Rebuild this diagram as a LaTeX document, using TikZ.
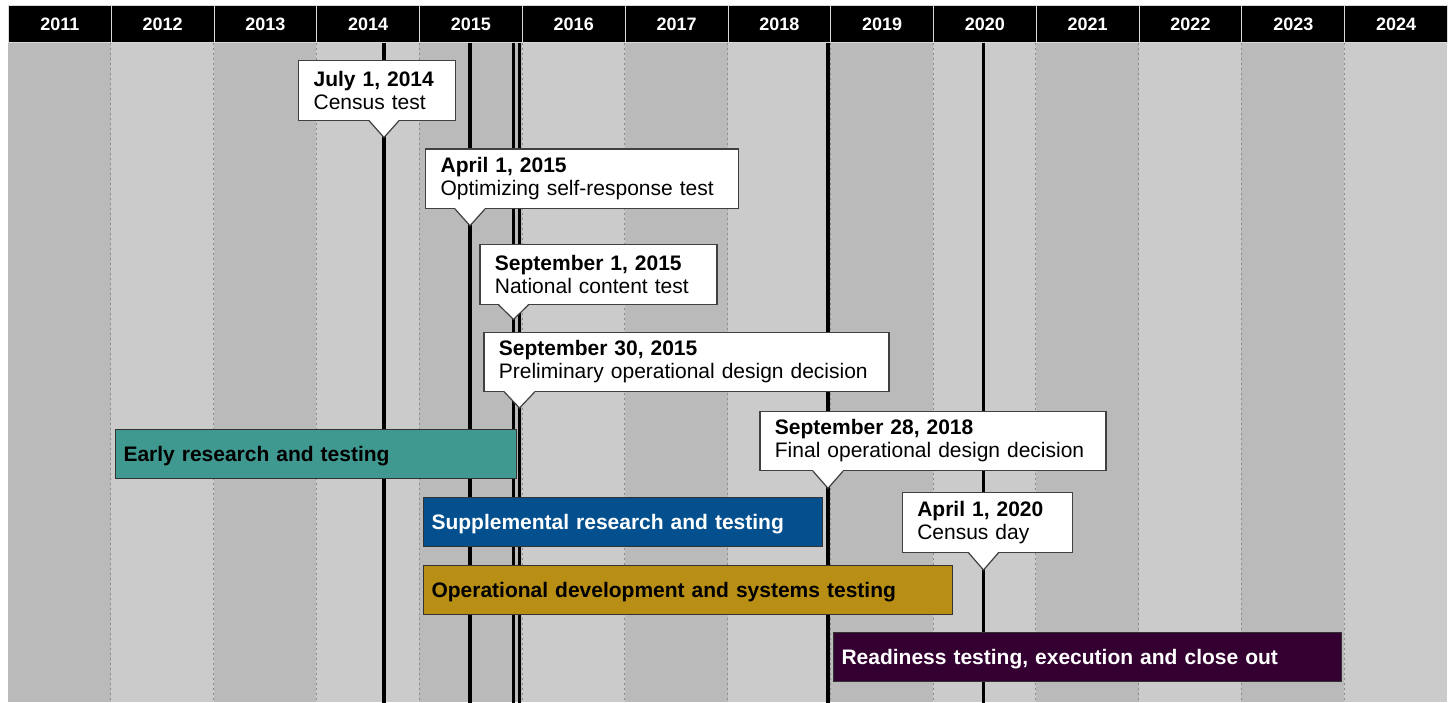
\documentclass[tikz,border=0pt]{standalone}
\usepackage{fontspec}
\setmainfont{Liberation Sans}
\usetikzlibrary{calc}

\definecolor{darkcol}{HTML}{BABABA}
\definecolor{lightcol}{HTML}{CBCBCB}
\definecolor{earlycol}{HTML}{3F9991}
\definecolor{suppcol}{HTML}{04508F}
\definecolor{opercol}{HTML}{B98E15}
\definecolor{readycol}{HTML}{330031}

\tikzset{
  yearcell/.style={fill=black, draw=black!15, line width=0.8pt, text=white,
    anchor=north west, minimum width=102.79pt, minimum height=37pt,
    font=\fontsize{18}{20}\selectfont\bfseries},
  yeargrid/.style={draw=black!45, line width=0.9pt, dash pattern=on 2pt off 3pt},
  milestone/.style={draw=black, line width=3.6pt},
  notebox/.style={draw=black!75, fill=white, line width=1.2pt, anchor=north west,
    align=left, inner xsep=15pt, inner ysep=0pt, minimum height=59.5pt,
    font=\fontsize{21}{23.4}\selectfont},
  tipline/.style={draw=black!75, line width=1.2pt, line join=miter},
  phasebar/.style={draw=black!80, line width=1pt, anchor=north west,
    align=left, inner xsep=8pt, inner ysep=0pt, minimum height=48.5pt,
    text height=15pt, text depth=0pt,
    font=\fontsize{21}{24}\selectfont\bfseries},
}

\begin{document}
\begin{tikzpicture}[%
      x=1pt, y=-1pt,
      ]
      \useasboundingbox (0,0) rectangle (1449,702);

      \foreach \i in {0,...,13} {
        \pgfmathsetmacro{\xa}{8+102.79*\i}
        \pgfmathtruncatemacro{\yr}{2011+\i}
        \ifodd\i \def\colcol{lightcol}\else \def\colcol{darkcol}\fi
        \fill[\colcol] (\xa,42) rectangle ++(102.79,660);
        \node[yearcell] (y\yr) at (\xa,5) {\yr};
      }
      \foreach \i in {1,...,13}
        \draw[yeargrid] (8+102.79*\i,42.5) -- ++(0,660);

      \coordinate (m1) at (384,137.5);
      \coordinate (m2) at (470,225.7);
      \coordinate (m3) at (513.5,319.5);
      \coordinate (m4) at (519.5,408);
      \coordinate (m5) at (828,488.3);
      \coordinate (m6) at (983.5,570);

      \draw[milestone] (m1 |- y2014.south) -- ++(0,660);
      \draw[milestone] (m2 |- y2015.south) -- ++(0,660);
      \draw[milestone] (m3 |- y2015.south) -- ++(0,660);
      \draw[milestone] (m4 |- y2015.south) -- ++(0,660);
      \draw[milestone] (m5 |- y2018.south) -- ++(0,660);
      \draw[milestone] (m6 |- y2020.south) -- ++(0,660);

      \node[phasebar, fill=earlycol, text width=385pt] (b1) at (115,429) {Early research and testing};
      \node[phasebar, fill=suppcol, text=white, text width=383pt] (b2) at (423,497) {Supplemental research and testing};
      \node[phasebar, fill=opercol, text width=513pt] (b3) at (423,565) {Operational development and systems testing};
      \node[phasebar, fill=readycol, text=white, text width=492pt] (b4) at (833,632) {Readiness testing, execution and close out};

      \node[notebox, text width=127pt] (c1) at (298,60) {\textbf{July 1, 2014}\\Census test};
      \node[notebox, text width=283pt] (c2) at (425,148.3) {\textbf{April 1, 2015}\\Optimizing self-response test};
      \node[notebox, text width=207pt] (c3) at (479.3,244) {\textbf{September 1, 2015}\\National content test};
      \node[notebox, text width=375pt] (c4) at (483.3,331.5) {\textbf{September 30, 2015}\\Preliminary operational design decision};
      \node[notebox, text width=316pt] (c5) at (759.3,410.5) {\textbf{September 28, 2018}\\Final operational design decision};
      \node[notebox, text width=140pt] (c6) at (901.7,492) {\textbf{April 1, 2020}\\Census day};

      \foreach \c/\m in {c1/m1, c2/m2, c3/m3, c4/m4, c5/m5, c6/m6} {
        \fill[white] ($(\m |- \c.south)+(-15,-1)$) -- (\m) -- ($(\m |- \c.south)+(15,-1)$) -- cycle;
        \draw[tipline] ($(\m |- \c.south)+(-15,0)$) -- (\m) -- ($(\m |- \c.south)+(15,0)$);
      }
      \end{tikzpicture}
\end{document}
